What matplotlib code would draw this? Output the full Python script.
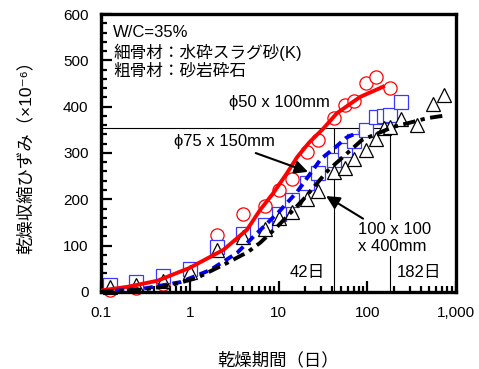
import matplotlib
matplotlib.use("Agg")
import matplotlib.pyplot as plt
from matplotlib.ticker import FixedLocator, LogLocator, NullFormatter

FONT = ["Liberation Sans", "Noto Sans CJK JP", "DejaVu Sans"]
plt.rcParams["font.family"] = FONT

# measured shrinkage (x10^-6) by drying age (days)
age_phi50 = [0.125, 0.25, 0.5, 1, 2, 4, 7, 10, 14, 21, 28, 42, 56, 70, 98, 126, 182]
eps_phi50 = [5, 8, 16, 50, 123, 168, 186, 220, 244, 301, 328, 375, 404, 412, 452, 464, 440]

age_phi75 = [0.125, 0.25, 0.5, 1, 2, 4, 7, 10, 14, 21, 28, 42, 56, 70, 98, 126, 154, 182, 238]
eps_phi75 = [15, 21, 35, 50, 97, 124, 144, 168, 199, 235, 257, 285, 306, 326, 350, 378, 380, 382, 410]

age_prism = [0.125, 0.25, 0.5, 1, 2, 4, 7, 10, 14, 21, 28, 42, 56, 70, 98, 126, 154, 182,
             238, 364, 546, 728]
eps_prism = [11, 15, 24, 44, 91, 119, 135, 160, 172, 200, 217, 258, 268, 288, 306, 330, 354,
             357, 373, 360, 405, 425]

# fitted curves
fit50_t = [0.1, 0.2, 0.43, 1, 2.4, 4.4, 6.2, 8.7, 12.5, 16.2, 22, 31.7, 45.6, 83, 139, 150]
fit50_e = [3, 11, 24, 52, 91, 134, 177, 213, 257, 291, 322, 352, 386, 421, 440, 443]

fit75_t = [0.1, 0.3, 0.78, 1.69, 3.4, 5.2, 10, 16.2, 30, 43, 58, 80]
fit75_e = [0, 7, 21, 47, 84, 119, 172, 216, 287, 311, 333, 345]

fitpr_t = [0.1, 0.3, 0.6, 1.2, 2.6, 4.5, 6.2, 9.6, 18.9, 36, 87, 195, 471, 700]
fitpr_e = [0, 5, 14, 30, 62, 86, 106, 140, 199, 262, 328, 356, 375, 380]

# reference ages and level
mark_days = [42, 182]
mark_level = 354

xticks = [0.1, 1, 10, 100, 1000]
xticklabels = ["0.1", "1", "10", "100", "1,000"]

fig = plt.figure(figsize=(4.79, 3.69), dpi=100)
ax = fig.add_axes([0.211, 0.209, 0.741, 0.753])

ax.set_xscale("log")
ax.set_xlim(0.1, 1000)
ax.set_ylim(0, 600)

# guide lines
ax.plot([0.1, mark_days[1]], [mark_level, mark_level], color="black", lw=0.8, zorder=1)
for d in mark_days:
    ax.plot([d, d], [0, mark_level], color="black", lw=0.8, zorder=1)

ms = 9.5
ax.plot(age_phi50, eps_phi50, "o", ms=ms, mfc="white", mec="#ff0000", mew=0.9,
        zorder=2, clip_on=False)
ax.plot(age_phi75, eps_phi75, "s", ms=ms, mfc="white", mec="#3a3aff", mew=0.9,
        zorder=2.1, clip_on=False)
ax.plot(age_prism, eps_prism, "^", ms=ms, mfc="white", mec="black", mew=0.9,
        zorder=2.2, clip_on=False)

ax.plot(fit50_t, fit50_e, "-", color="#ff0000", lw=2.8, zorder=3)
ax.plot(fit75_t, fit75_e, color="#0000ee", lw=2.8, dashes=(2.3, 1.4), zorder=3)
ax.plot(fitpr_t, fitpr_e, color="black", lw=2.8, dashes=(3.2, 1.4, 1.1, 1.4), zorder=3)

ax.xaxis.set_major_locator(FixedLocator(xticks))
ax.set_xticklabels(xticklabels)
ax.xaxis.set_minor_locator(LogLocator(base=10, subs=range(2, 10)))
ax.xaxis.set_minor_formatter(NullFormatter())
ax.set_yticks(range(0, 601, 100))
ax.set_yticks(range(0, 601, 20), minor=True)

ax.tick_params(which="both", direction="in", top=False, right=False, width=1.6,
               labelsize=11)
ax.tick_params(which="major", length=8)
ax.tick_params(which="minor", length=4.5)
ax.tick_params(axis="y", pad=9)
ax.tick_params(axis="x", pad=10)
for s in ax.spines.values():
    s.set_linewidth(2.4)

ax.set_xlabel("乾燥期間（日）", fontsize=12.5, labelpad=23)
ax.set_ylabel("乾燥収縮ひずみ（×10⁻⁶）", fontsize=12.5, labelpad=21)

tk = dict(transform=ax.transAxes, fontsize=12)
ax.text(0.034, 0.932, "W/C=35%", va="center", **tk)
ax.text(0.034, 0.863, "細骨材：水砕スラグ砂(K)", va="center", **tk)
ax.text(0.034, 0.796, "粗骨材：砂岩砕石", va="center", **tk)

ax.text(0.645, 0.68, "ϕ50 x 100mm", ha="right", va="center", **tk)
ax.annotate("ϕ75 x 150mm", xy=(0.583, 0.432), xytext=(0.49, 0.54),
            xycoords="axes fraction", textcoords="axes fraction",
            ha="right", va="center", fontsize=12,
            arrowprops=dict(arrowstyle="-|>", color="black", lw=1.5,
                            mutation_scale=20, shrinkA=2, shrinkB=0))
ax.annotate("100 x 100\nx 400mm", xy=(0.634, 0.345), xytext=(0.724, 0.194),
            xycoords="axes fraction", textcoords="axes fraction",
            ha="left", va="center", fontsize=12, linespacing=1.2,
            bbox=dict(boxstyle="square,pad=0.1", fc="white", ec="none"),
            arrowprops=dict(arrowstyle="-|>", color="black", lw=1.5,
                            mutation_scale=20, shrinkA=2, shrinkB=0))
ax.text(0.631, 0.068, "42日", ha="right", va="center", **tk)
ax.text(0.834, 0.068, "182日", ha="left", va="center", **tk)

fig.savefig("out.png", dpi=100)
